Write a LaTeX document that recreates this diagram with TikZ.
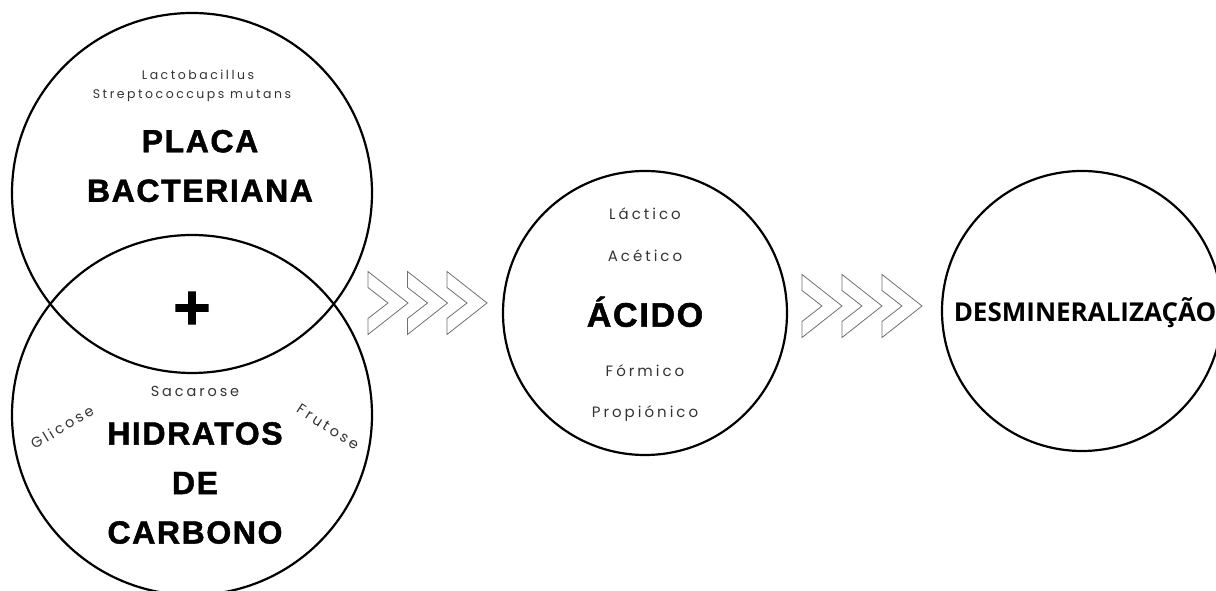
\documentclass[tikz,border=0pt]{standalone}
\usepackage{fontspec}
\setmainfont{Liberation Sans}
\newfontfamily\labelfont[LetterSpace=20, Ligatures=NoCommon]{Poppins}
\newfontfamily\titlefont[LetterSpace=5, FakeBold=1.5]{Liberation Sans Bold}
\newfontfamily\wordfont{Open Sans Bold}
\newfontfamily\signfont[FakeBold=4]{DejaVu Sans Bold}
\definecolor{tagGray}{HTML}{333333}
\definecolor{chevGray}{HTML}{707070}

\begin{document}
\begin{tikzpicture}[x=1pt, y=1pt,
	ring/.style={circle, draw, line width=2.2pt, inner sep=0pt},
	title/.style={font=\titlefont\fontsize{#1}{49.5}\selectfont, align=center},
	title/.default=32,
	tag/.style={font=\labelfont\fontsize{#1}{#1}\selectfont, text=tagGray, anchor=base},
	tag/.default=14.5,
	chev/.style={draw=chevGray, line width=0.8pt}]
	\useasboundingbox (0,0) rectangle (1216,591);
	% the four circles
	\node[ring, minimum size=360pt] (placa) at (192,398) {};
	\node[ring, minimum size=360pt] (hidratos) at (192,176) {};
	\node[ring, minimum size=284pt] (acido) at (645,278) {};
	\node[ring, minimum size=280pt] (desmin) at (1082,280) {};
	% chevrons
	\foreach \x in {368,407.5,447}
		\draw[chev] (\x,319.5) -- ++(40,-31.5) -- ++(-40,-31.5) -- ++(0,16) -- ++(20,15.5) -- ++(-20,15.5) -- cycle;
	\foreach \x in {802,842,882}
		\draw[chev] (\x,316.5) -- ++(40,-31.5) -- ++(-40,-31.5) -- ++(0,16) -- ++(20,15.5) -- ++(-20,15.5) -- cycle;
	% placa bacteriana
	\node[tag=12.5] (lacto) at (198,511) {Lactobacillus};
	\node[tag=12.5] (strep) at (192,492) {Streptococcups mutans};
	\node[title] (placaText) at (200,425) {PLACA\\BACTERIANA};
	\node[font=\signfont\fontsize{50}{50}\selectfont] (mais) at (192,283) {+};
	% hidratos de carbono
	\node[tag] (sacarose) at (195,194) {Sacarose};
	\node[tag, anchor=center, rotate=31] (glicose) at (62,164) {Glicose};
	\node[tag, anchor=center, rotate=-33] (frutose) at (328,164) {Frutose};
	\node[title] (hidratosText) at (195,108) {HIDRATOS\\DE\\CARBONO};
	% acido
	\node[tag=15] (lactico) at (645,371) {Láctico};
	\node[tag=15] (acetico) at (645,329.3) {Acético};
	\node[title=34, anchor=base] (acidoText) at (645,264.3) {ÁCIDO};
	\node[tag=15] (formico) at (645,214.3) {Fórmico};
	\node[tag=15] (propionico) at (645,173.7) {Propiónico};
	% desmineralizacao
	\node[font=\wordfont\fontsize{26}{30}\selectfont, anchor=base] (desminText) at (1085,269.3) {DESMINERALIZAÇÃO};
\end{tikzpicture}
\end{document}
